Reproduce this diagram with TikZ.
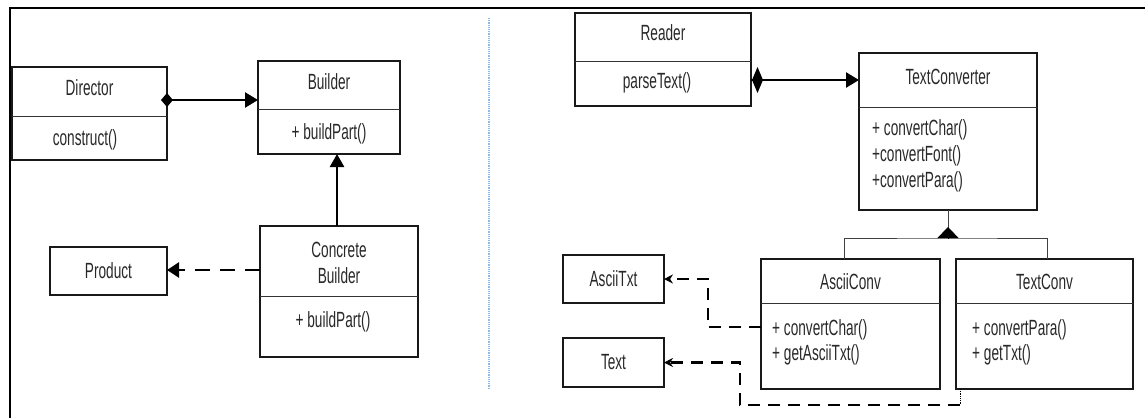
\documentclass[tikz,border=0pt]{standalone}
\usepackage{fontspec}
\setmainfont{Liberation Sans}[FakeStretch=0.62]
\usetikzlibrary{arrows.meta}
\definecolor{txtgray}{RGB}{40,40,40}
\definecolor{sepblue}{RGB}{140,185,230}
\begin{document}
\begin{tikzpicture}[x=1pt,y=-1pt,
  umlbox/.style={draw=black!90, line width=2.8pt, rectangle, inner sep=0pt, outer sep=0pt, anchor=north west},
  divider/.style={draw=black!80, line width=1pt},
  txt/.style={text=txtgray, font=\fontsize{22}{26}\selectfont, inner sep=0pt},
  mtxt/.style={txt, anchor=west},
  assoc/.style={line width=2.5pt, -{Triangle[length=13pt,width=15pt]}},
  inh/.style={line width=2.5pt, -{Triangle[length=13pt,width=14pt]}},
  dep/.style={line width=2.5pt, dash pattern=on 15pt off 10pt, -{Triangle[length=12pt,width=15pt]}},
  depR/.style={line width=2.5pt, dash pattern=on 12pt off 8pt, -{Stealth[length=9pt,width=9pt]}},
  thinline/.style={line width=1pt, draw=black!75}
]
\useasboundingbox (0,0) rectangle (1145,418);
% frame
\draw[line width=2.8pt] (1145,8) -- (10,8) -- (10,418);
\draw[sepblue, line width=1.2pt, densely dotted] (489,18) -- (489,388);

% ---------- left diagram ----------
\node[umlbox, minimum width=155pt, minimum height=93pt] (dir) at (12,67) {};
\draw[divider] (12,116) -- (167,116);
\node[txt] (dirT) at (89.5,88) {Director};
\node[txt] (dirM) at (85,140) {construct()};

\node[umlbox, minimum width=142pt, minimum height=93pt] (bld) at (258,61) {};
\draw[divider] (258,109) -- (400,109);
\node[txt] (bldT) at (329,82) {Builder};
\node[txt] (bldM) at (329,134) {+ buildPart()};

\node[umlbox, minimum width=158pt, minimum height=131pt] (cb) at (260,226) {};
\draw[divider] (260,296) -- (418,296);
\node[txt, align=center] (cbT) at (339,263) {Concrete\\Builder};
\node[txt] (cbM) at (333,322) {+ buildPart()};

\node[umlbox, minimum width=117pt, minimum height=48pt] (prod) at (50,247) {};
\node[txt] (prodT) at (108.5,271) {Product};

\draw[assoc] ([yshift=13.5pt]dir.east) coordinate (a1) -- (a1 -| bld.west);
\fill[black] (a1) ++(-6,0) -- ++(6,-7) -- ++(6,7) -- ++(-6,7) -- cycle;

\draw[inh] ([xshift=-2pt]cb.north) coordinate (b1) -- (b1 |- bld.south);
\draw[dep] ([yshift=21.5pt]cb.west) coordinate (c1) -- (c1 -| prod.east);

% ---------- right diagram ----------
\node[umlbox, minimum width=176pt, minimum height=93pt] (rdr) at (575,13) {};
\draw[divider] (575,61) -- (751,61);
\node[txt] (rdrT) at (663,33) {Reader};
\node[txt] (rdrM) at (657,83) {parseText()};

\node[umlbox, minimum width=178pt, minimum height=157pt] (tc) at (859,53) {};
\draw[divider] (859,107) -- (1037,107);
\node[txt] (tcT) at (948,77) {TextConverter};
\node[mtxt] (tcM1) at (872,130) {+ convertChar()};
\node[mtxt] (tcM2) at (872,156) {+convertFont()};
\node[mtxt] (tcM3) at (872,182) {+convertPara()};

\node[umlbox, minimum width=179pt, minimum height=130pt] (ac) at (761,259) {};
\draw[divider] (761,303) -- (940,303);
\node[txt] (acT) at (850.5,282) {AsciiConv};
\node[mtxt] (acM1) at (772,330) {+ convertChar()};
\node[mtxt] (acM2) at (772,355) {+ getAsciiTxt()};

\node[umlbox, minimum width=177pt, minimum height=130pt] (tcv) at (956,259) {};
\draw[divider] (956,303) -- (1133,303);
\node[txt] (tcvT) at (1044.5,282) {TextConv};
\node[mtxt] (tcvM1) at (972,330) {+ convertPara()};
\node[mtxt] (tcvM2) at (972,355) {+ getTxt()};

\node[umlbox, minimum width=101pt, minimum height=48pt] (at) at (563,255) {};
\node[txt] (atT) at (613.5,279) {AsciiTxt};
\node[umlbox, minimum width=101pt, minimum height=49pt] (tx) at (563,338) {};
\node[txt] (txT) at (613.5,362.5) {Text};

% composition Reader -> TextConverter
\draw[assoc] ([yshift=-20.5pt]rdr.east) coordinate (r1) -- (r1 -| tc.west);
\fill[black] (r1) ++(1,0) -- ++(5.5,-13) -- ++(5.5,13) -- ++(-5.5,13) -- cycle;

% generalisation
\coordinate (j) at (948,238);
\draw[thinline] ([xshift=-6.5pt]ac.north) |- (j) -| ([xshift=2.5pt]tcv.north);
\draw[thinline] (tc.south) -- ++(0,20);
\draw[line width=0.8pt, -{Triangle[length=11pt,width=21pt]}, shorten >=17pt] (j) -- (tc.south);

% dependencies
\coordinate (k1) at (708,279);
\draw[depR] ([yshift=-3pt]ac.west) -| (k1) -- (at.east);
\coordinate (k2) at (960,405);
\coordinate (k3) at (740,362.5);
\draw[line width=0.8pt, densely dotted] ([xshift=-84.5pt]tcv.south) -- (k2);
\draw[depR] (k2) -| (k3) -- (tx.east);
\end{tikzpicture}
\end{document}
